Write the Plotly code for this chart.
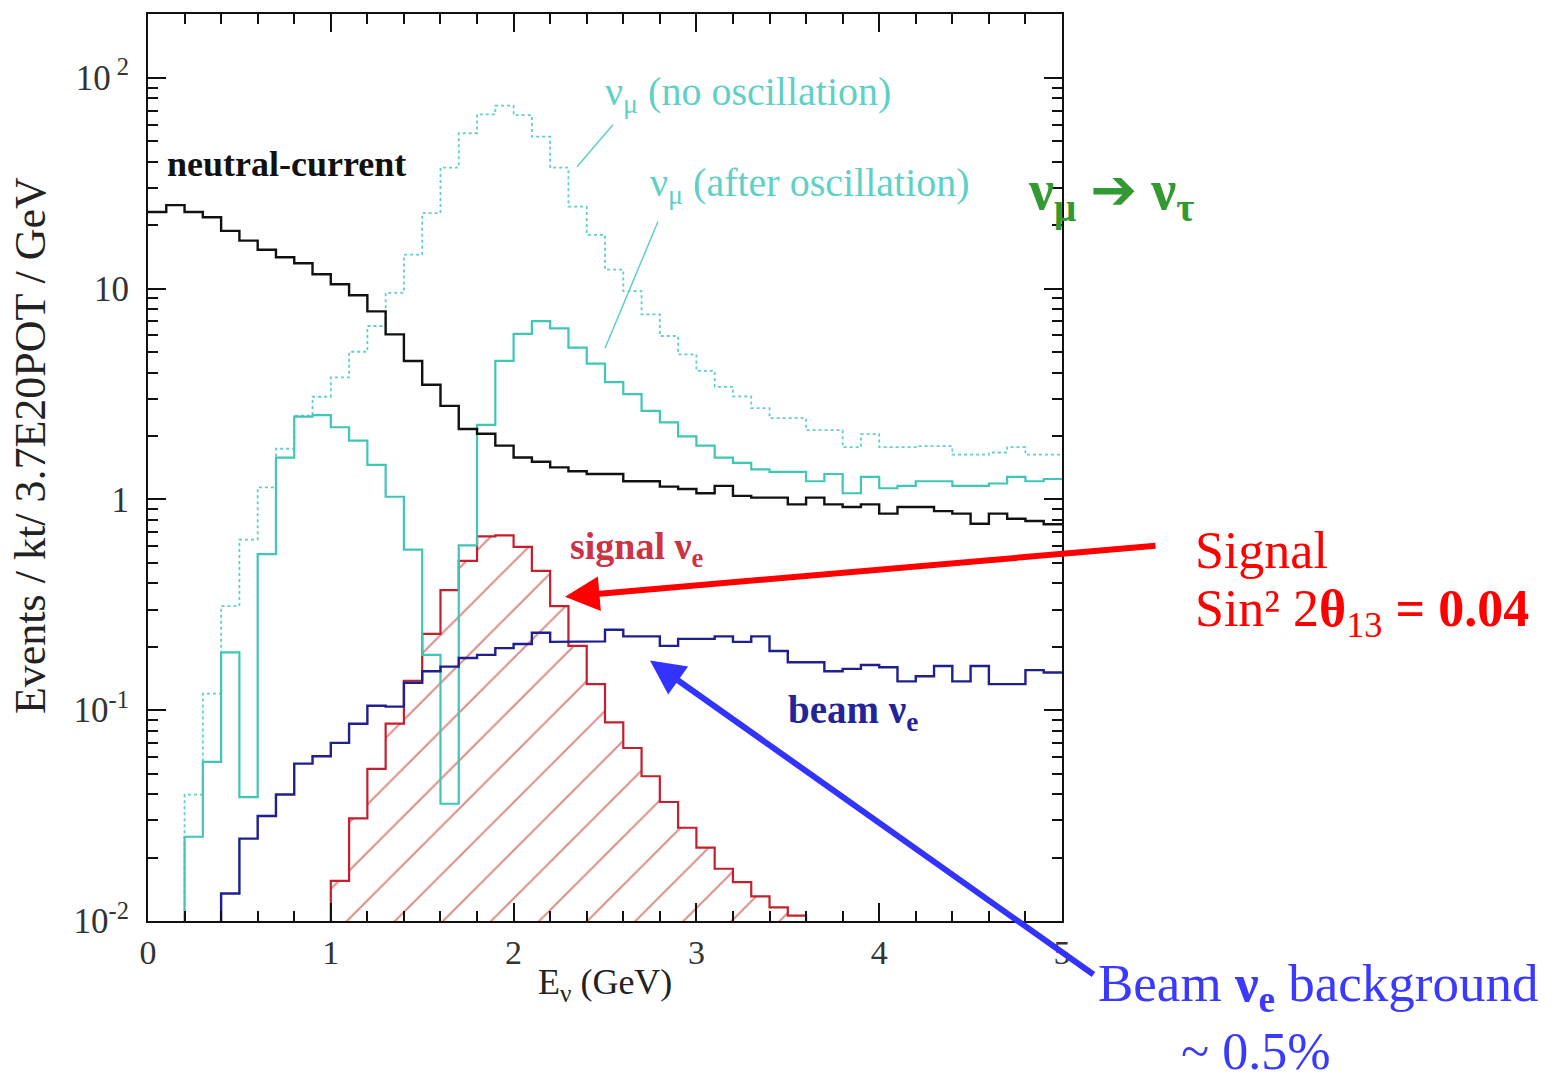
import plotly.graph_objects as go

# ---------------- data ----------------
bin_edges = [round(0.1 * i, 1) for i in range(51)]

neutral_current = [23.1, 24.9, 23.1, 21.8, 18.8, 16.9, 15.3, 14.1, 13.2, 11.7,
                   10.5, 9.3, 7.8, 6.07, 4.54, 3.50, 2.78, 2.16, 2.05, 1.80,
                   1.58, 1.51, 1.42, 1.36, 1.32, 1.32, 1.22, 1.22, 1.15, 1.12,
                   1.07, 1.16, 1.04, 1.02, 1.02, 0.947, 1.02, 0.947, 0.92, 0.947,
                   0.856, 0.92, 0.92, 0.88, 0.856, 0.767, 0.856, 0.81, 0.79, 0.762]

numu_no_osc = [0, 0, 0.0398, 0.120, 0.312, 0.645, 1.14, 1.74, 2.5, 3.07,
               3.79, 5.02, 6.65, 9.55, 14.5, 22.8, 37.5, 54.6, 67.1, 73.8,
               66.6, 52.6, 37.5, 24.5, 18.0, 12.3, 9.73, 7.55, 5.96, 4.88,
               4.07, 3.42, 3.08, 2.71, 2.43, 2.43, 2.13, 2.13, 1.77, 2.04,
               1.77, 1.77, 1.79, 1.79, 1.63, 1.63, 1.67, 1.77, 1.63, 1.63]

numu_after_osc = [0, 0, 0.0251, 0.0569, 0.188, 0.0387, 0.55, 1.58, 2.47, 2.51,
                  2.20, 1.90, 1.46, 1.03, 0.578, 0.183, 0.036, 0.606, 2.26, 4.54,
                  6.1, 7.02, 6.48, 5.25, 4.41, 3.6, 3.16, 2.63, 2.32, 1.99,
                  1.80, 1.58, 1.49, 1.39, 1.35, 1.35, 1.22, 1.32, 1.07, 1.28,
                  1.13, 1.16, 1.22, 1.22, 1.16, 1.16, 1.19, 1.28, 1.22, 1.25]

signal_nue = [0, 0, 0, 0, 0, 0, 0, 0, 0, 0,
              0.0155, 0.0307, 0.0527, 0.0863, 0.138, 0.230, 0.371, 0.511, 0.668, 0.676,
              0.595, 0.458, 0.312, 0.202, 0.133, 0.0875, 0.0662, 0.0486, 0.0367, 0.0277,
              0.0223, 0.0177, 0.0153, 0.0131, 0.0116, 0.0106, 0, 0, 0, 0,
              0, 0, 0, 0, 0, 0, 0, 0, 0, 0]

beam_nue = [0, 0, 0, 0, 0.0135, 0.0246, 0.0315, 0.0398, 0.0558, 0.0605,
            0.070, 0.0863, 0.105, 0.104, 0.135, 0.153, 0.161, 0.177, 0.183, 0.197,
            0.206, 0.233, 0.211, 0.212, 0.212, 0.241, 0.224, 0.224, 0.202, 0.218,
            0.218, 0.224, 0.211, 0.224, 0.191, 0.169, 0.169, 0.153, 0.157, 0.164,
            0.160, 0.137, 0.145, 0.162, 0.137, 0.162, 0.133, 0.133, 0.155, 0.151]

x_tick_vals = [0, 1, 2, 3, 4, 5]
y_tick_vals = [0.01, 0.1, 1, 10, 100]
y_tick_text = ["10<sup>-2</sup>", "10<sup>-1</sup>", "1", "10", "10<sup> 2</sup>"]

# ---------------- helpers ----------------
FLOOR = 1e-4  # empty bins drawn below the visible range (log axis)


def step_xy(edges, vals):
    xs, ys = [], []
    for i, v in enumerate(vals):
        v = v if v > 0 else FLOOR
        xs += [edges[i], edges[i + 1]]
        ys += [v, v]
    return xs, ys


SERIF = "Liberation Serif, Times New Roman, serif"
CYAN_LINE = "#3fc6b6"
CYAN_TEXT = "#5fd0c6"

fig = go.Figure()

# signal (hatched)
sx, sy = step_xy(bin_edges, signal_nue)
fig.add_trace(go.Scatter(x=sx, y=sy, mode="lines", fill="toself",
                         fillcolor="rgba(0,0,0,0)",
                         fillpattern=dict(shape="/", size=34, solidity=0.06,
                                          fgcolor="#b81c1c", bgcolor="rgba(0,0,0,0)"),
                         line=dict(color="#c41f2c", width=2.2), showlegend=False))

for vals, color, width, dash in [
    (numu_no_osc, CYAN_TEXT, 1.8, "dot"),
    (numu_after_osc, CYAN_LINE, 2.2, "solid"),
    (neutral_current, "#111111", 2.4, "solid"),
    (beam_nue, "#1f1f8f", 2.4, "solid"),
]:
    xs, ys = step_xy(bin_edges, vals)
    fig.add_trace(go.Scatter(x=xs, y=ys, mode="lines",
                             line=dict(color=color, width=width, dash=dash),
                             showlegend=False))

# ---------------- layout ----------------
L, R, T, B = 148, 1062, 12, 921
W, H = 1561, 1080


def px(x):
    return (x - L) / (R - L)


def py(y):
    return (B - y) / (B - T)


minor_x = [round(0.2 * i, 1) for i in range(26) if (0.2 * i) % 1 > 1e-6 and (0.2 * i) % 1 < 0.999]
minor_y = [k * 10 ** d for d in range(-2, 3) for k in range(2, 10)]

fig.update_layout(
    width=W, height=H, autosize=False,
    margin=dict(l=L, r=W - R, t=T, b=H - B),
    paper_bgcolor="white", plot_bgcolor="white",
    font=dict(family=SERIF, color="#222222"),
    xaxis=dict(range=[0, 5], showgrid=False, zeroline=False,
               showline=True, linecolor="#111111", linewidth=2, mirror="allticks",
               ticks="inside", ticklen=18, tickwidth=2, tickcolor="#111111",
               tickvals=x_tick_vals, ticktext=[str(v) for v in x_tick_vals],
               tickfont=dict(family=SERIF, size=34, color="#333333"),
               minor=dict(ticks="inside", ticklen=10, tickwidth=1.5,
                          tickcolor="#111111", tickvals=minor_x)),
    yaxis=dict(type="log", range=[-2.0, 2.303], showgrid=False, zeroline=False,
               showline=True, linecolor="#111111", linewidth=2, mirror="allticks",
               ticks="inside", ticklen=18, tickwidth=2, tickcolor="#111111",
               tickvals=y_tick_vals, ticktext=y_tick_text,
               ticklabelstandoff=10,
               tickfont=dict(family=SERIF, size=35, color="#333333"),
               minor=dict(ticks="inside", ticklen=10, tickwidth=1.5,
                          tickcolor="#111111", tickvals=minor_y)),
)

ann = []


def text(x, y, s, size, color, anchor="left", bold=False, angle=0):
    ann.append(dict(xref="paper", yref="paper", x=px(x), y=py(y), text=("<b>%s</b>" % s) if bold else s,
                    showarrow=False, xanchor=anchor, yanchor="middle", textangle=angle,
                    font=dict(family=SERIF, size=size, color=color)))


# axis titles
text(605, 985, "E<sub>ν</sub> (GeV)", 36, "#222222", anchor="center")
text(30, 445, "Events / kt/ 3.7E20POT / GeV", 44, "#222222", anchor="center", angle=-90)

# in-plot labels
text(165, 162, "neutral-current", 36, "#111111", bold=True)
text(603, 92, "ν<sub>μ</sub> (no oscillation)", 40, CYAN_TEXT)
text(648, 183, "ν<sub>μ</sub> (after oscillation)", 40, CYAN_TEXT)
text(568, 548, "signal ν<sub>e</sub>", 38, "#cc3344", bold=True)
text(786, 712, "beam ν<sub>e</sub>", 39, "#23239a", bold=True)

# right-hand labels
text(1026, 192, "ν<sub>μ</sub> <span style='font-family:DejaVu Sans'>➔</span> ν<sub>τ</sub>", 56, "#339933", bold=True)
text(1193, 550, "Signal", 52, "#ff0000")
text(1193, 612, "Sin² 2<b>θ</b><sub>13</sub> <b>= 0.04</b>", 52, "#ff0000")
text(1096, 987, "Beam <b>ν</b><sub><b>e</b></sub> background", 53, "#3a3aff")
text(1255, 1052, "~ 0.5%", 52, "#3a3aff", anchor="center")

# arrows
ann.append(dict(xref="paper", yref="paper", x=px(565), y=py(596), text="", showarrow=True,
                ax=1157 - 565, ay=545 - 596, arrowcolor="#ff0000", arrowwidth=6,
                arrowhead=2, arrowsize=1.15, standoff=0, startstandoff=0))
ann.append(dict(xref="paper", yref="paper", x=px(650), y=py(660), text="", showarrow=True,
                ax=1095 - 650, ay=975 - 660, arrowcolor="#3333ff", arrowwidth=6,
                arrowhead=2, arrowsize=1.15, standoff=0, startstandoff=0))

fig.update_layout(annotations=ann)

# thin pointer lines for the numu labels
fig.update_layout(shapes=[
    dict(type="line", xref="paper", yref="paper", x0=px(613), y0=py(123), x1=px(577), y1=py(165),
         line=dict(color=CYAN_TEXT, width=1.5)),
    dict(type="line", xref="paper", yref="paper", x0=px(658), y0=py(220), x1=px(605), y1=py(347),
         line=dict(color=CYAN_TEXT, width=1.5)),
])

fig.write_html("out.html")
